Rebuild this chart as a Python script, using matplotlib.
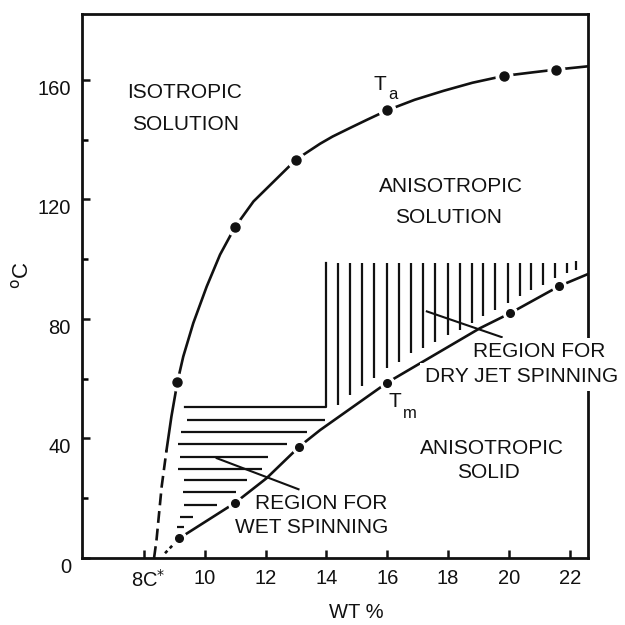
import numpy as np
import matplotlib.pyplot as plt

plt.rcParams['font.family'] = ['Liberation Sans', 'DejaVu Sans']

# T_a curve (isotropic / anisotropic solution boundary)
ta_dash_x = [8.33, 8.41, 8.58, 8.74]
ta_dash_y = [0, 6, 23.9, 36.1]
ta_x = [8.74, 8.9, 9.1, 9.29, 9.62, 10.06, 10.5, 10.99, 11.6, 12.37, 13.0,
        13.79, 14.2, 14.8, 15.33, 16.0, 16.9, 17.85, 18.8, 19.84, 20.8, 21.55, 22.6]
ta_y = [36.1, 47.3, 59, 67.4, 78.6, 90.8, 101.5, 110.7, 119.3, 127.0, 133.3,
        138.6, 141, 144.0, 146.6, 149.8, 153.3, 156.3, 159.0, 161.3, 162.5, 163.4, 164.5]
ta_pts_x = [9.1, 11.0, 13.0, 16.0, 19.84, 21.55]
ta_pts_y = [59, 110.7, 133.3, 149.8, 161.3, 163.4]

# T_m curve (anisotropic solution / solid)
tm_dot_x = [8.69, 9.16]
tm_dot_y = [1.6, 6.6]
tm_x = [9.16, 11.0, 12.03, 13.11, 13.79, 16.0, 19.05, 20.04, 21.66, 22.6]
tm_y = [6.6, 18.5, 26.7, 37.3, 42.8, 58.7, 76.9, 81.9, 91.0, 95.0]
tm_pts_x = [9.16, 11.0, 13.11, 16.0, 20.04, 21.66]
tm_pts_y = [6.6, 18.5, 37.3, 58.7, 81.9, 91.0]

# wet spinning region (horizontal hatching)
wet_y = [46.2, 42.1, 38.0, 33.9, 29.8, 26.1, 22.0, 17.7, 13.8, 10.5]
wet_x0 = [9.4, 9.2, 9.13, 9.18, 9.13, 9.3, 9.27, 9.3, 9.18, 9.08]
wet_x1 = [13.95, 13.35, 12.69, 12.09, 11.87, 11.38, 11.04, 10.39, 9.62, 9.3]
edge_x = [9.35, 14.0, 14.0]
edge_y = [50.4, 50.4, 98.6]

# dry jet spinning region (vertical hatching)
dry_x = [14.39, 14.78, 15.16, 15.57, 15.98, 16.39, 16.78, 17.19, 17.57, 17.98, 18.39,
         18.78, 19.16, 19.55, 19.98, 20.35, 20.72, 21.11, 21.52, 21.9, 22.2]
dry_bot = [51.2, 54.6, 57.4, 60.2, 63.5, 65.7, 68.5, 70.2, 72.4, 74.6, 76.3,
           78.6, 80.8, 83.0, 85.3, 87.5, 89.7, 91.4, 93.6, 95.3, 96.4]
dry_top = [98.6] * 20 + [99.2]

wet_ptr_x = [10.39, 13.08]
wet_ptr_y = [33.4, 23.0]
dry_ptr_x = [17.3, 19.76]
dry_ptr_y = [82.5, 73.9]

fig = plt.figure(figsize=(6.25, 6.25), dpi=100)
ax = fig.add_axes([0.1312, 0.1072, 0.8096, 0.8704])
ax.set_xlim(5.96, 22.6)
ax.set_ylim(0, 182)

lw = 1.9
k = '#111111'

# curves
ax.plot(ta_dash_x, ta_dash_y, color=k, lw=lw, dashes=(4.5, 2.2))
ax.plot(ta_x, ta_y, color=k, lw=lw, solid_joinstyle='round')
ax.plot(tm_dot_x, tm_dot_y, color=k, lw=lw, dashes=(1.3, 1.3))
ax.plot(tm_x, tm_y, color=k, lw=lw, solid_joinstyle='round')

# dots with a white halo that breaks the line
ax.plot(ta_pts_x, ta_pts_y, 'o', color='white', ms=12, zorder=3)
ax.plot(ta_pts_x, ta_pts_y, 'o', color=k, ms=6.5, zorder=4)
ax.plot(tm_pts_x, tm_pts_y, 'o', color='white', ms=10, zorder=3)
ax.plot(tm_pts_x, tm_pts_y, 'o', color=k, ms=5.5, zorder=4)

# hatching
ax.hlines(wet_y, wet_x0, wet_x1, color=k, lw=1.6)
ax.plot(edge_x, edge_y, color=k, lw=1.6)
ax.vlines(dry_x, dry_bot, dry_top, color=k, lw=1.6)

# pointer lines
ax.plot(wet_ptr_x, wet_ptr_y, color=k, lw=1.5)
ax.plot(dry_ptr_x, dry_ptr_y, color=k, lw=1.5)

fs = 15
txt = dict(ha='center', va='center', fontsize=fs, color=k, zorder=6)
ax.text(9.33, 155.6, 'ISOTROPIC', **txt)
ax.text(9.36, 144.9, 'SOLUTION', **txt)
ax.text(18.08, 124.2, 'ANISOTROPIC', **txt)
ax.text(18.03, 113.8, 'SOLUTION', **txt)
ax.text(19.45, 36.8, 'ANISOTROPIC', **txt)
ax.text(19.32, 28.5, 'SOLID', **txt)
ax.text(13.84, 18.2, 'REGION FOR', **txt)
ax.text(13.51, 10.2, 'WET SPINNING', **txt)
box = dict(facecolor='white', edgecolor='none', pad=3)
ax.text(20.99, 69.0, 'REGION FOR', bbox=box, **txt)
ax.text(20.4, 60.6, 'DRY JET SPINNING', bbox=box, **txt)

ax.text(15.76, 158.3, 'T', **txt)
ax.text(16.2, 155.0, 'a', ha='center', va='center', fontsize=12, color=k)
ax.text(16.26, 52.3, 'T', **txt)
ax.text(16.75, 48.4, 'm', ha='center', va='center', fontsize=12, color=k)

# axes styling
for s in ax.spines.values():
    s.set_linewidth(2)
    s.set_color(k)

ax.set_xticks([8, 10, 12, 14, 16, 18, 20, 22])
ax.set_xticklabels(['', '10', '12', '14', '16', '18', '20', '22'])
ax.set_yticks([0, 40, 80, 120, 160])
ax.set_yticks([20, 60, 100, 140], minor=True)
ax.tick_params(axis='both', which='major', direction='in', length=6, width=1.8,
               labelsize=14.5, colors=k)
ax.tick_params(axis='y', which='minor', direction='in', length=4, width=1.8)
ax.tick_params(axis='x', pad=8)
ax.tick_params(axis='y', pad=8)
for lab in ax.get_yticklabels():
    lab.set_va('top')

ax.annotate('8C$^{*}$', xy=(8.15, 0), xytext=(0, -8), textcoords='offset points',
            ha='center', va='top', fontsize=14.5, color=k, annotation_clip=False)

ax.text(0.543, -0.101, 'WT %', transform=ax.transAxes, ha='center', va='center',
        fontsize=14.5, color=k)
ax.text(-0.1186, 0.52, '$^{\\mathrm{o}}$C', transform=ax.transAxes, ha='center',
        va='center', rotation=90, fontsize=16, color=k)

fig.savefig('out.png', dpi=100, facecolor='white')
